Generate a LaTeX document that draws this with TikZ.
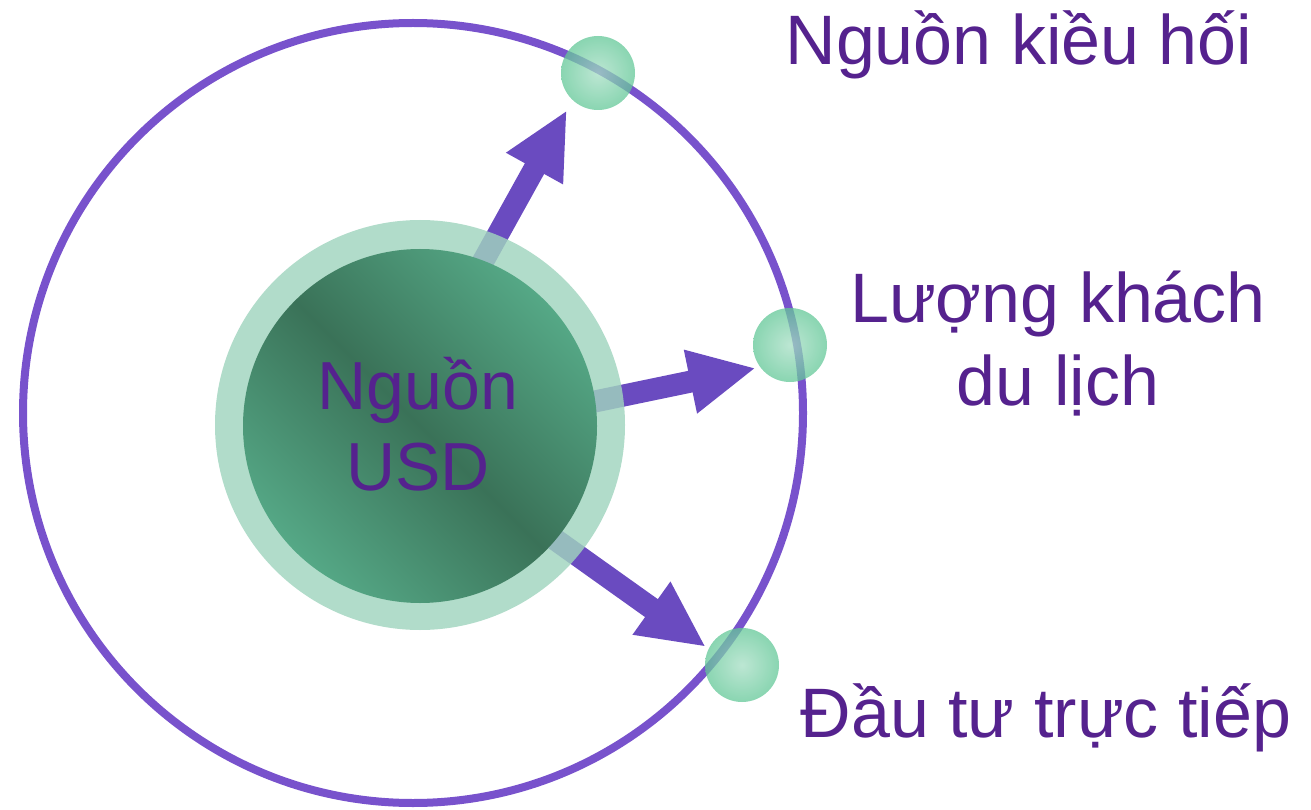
\documentclass[tikz,border=0pt]{standalone}
\usepackage{fontspec}
\setmainfont{Liberation Sans}
\usetikzlibrary{arrows.meta,shadings}
\pgfdeclarelayer{background}
\pgfsetlayers{background,main}

\definecolor{txtpurple}{HTML}{55228E}
\definecolor{orbitpurple}{HTML}{7852CC}
\definecolor{arrowpurple}{HTML}{6A4BC0}
\definecolor{ringgreen}{HTML}{A0D4BE}
\definecolor{coredark}{HTML}{3A7258}
\definecolor{corelight}{HTML}{55A886}
\definecolor{dotgreen}{HTML}{62C797}
\definecolor{dotlight}{HTML}{A6DEC4}

\tikzset{
  orbit/.style={draw=orbitpurple,line width=8pt},
  ring/.style={circle,inner sep=0pt,minimum size=410pt,fill=ringgreen,fill opacity=0.82},
  core/.style={circle,inner sep=0pt,minimum size=354pt,
    shading=axis,top color=corelight,bottom color=corelight,middle color=coredark,shading angle=-45},
  dot/.style={circle,inner sep=0pt,minimum size=74pt,
    shading=radial,inner color=dotlight,outer color=dotgreen,fill opacity=0.75},
  flow/.style={line width=22pt,draw=arrowpurple,shorten <=-12pt,
    -{Triangle[width=60pt,length=67pt]}},
  lbl/.style={text=txtpurple,font=\fontsize{70}{83}\selectfont,align=center,inner sep=0pt}
}

\begin{document}
\begin{tikzpicture}[x=1pt,y=-1pt]
  \useasboundingbox (0,0) rectangle (1311,810);

  \draw[orbit] (413,413) circle (390);

  \node[ring] (ring) at (420,425) {};
  \node[core] (core) at (420,426) {};
  \node[lbl,font=\fontsize{68}{81}\selectfont] (usd) at (418,424) {Nguồn\\USD};

  \node[dot] (kieuhoi) at (598,73) {};
  \node[dot] (dulich) at (790,345) {};
  \node[dot] (dautu) at (742,665) {};

  \coordinate (tip1) at (567,110);
  \coordinate (tip2) at (756,368);
  \coordinate (tip3) at (706,647);

  \begin{pgfonlayer}{background}
    \draw[flow] (core.69) -- (tip1);
    \draw[flow] (core.8) -- (tip2);
    \draw[flow] (core.-40) -- (tip3);
  \end{pgfonlayer}

  \node[lbl,anchor=base] (lblkieuhoi) at (1019,65) {Nguồn kiều hối};
  \node[lbl,anchor=base] (lbldulich) at (1058,405) {Lượng khách\\du lịch};
  \node[lbl,anchor=base] (lbldautu) at (1046,737) {Đầu tư trực tiếp};
\end{tikzpicture}
\end{document}
